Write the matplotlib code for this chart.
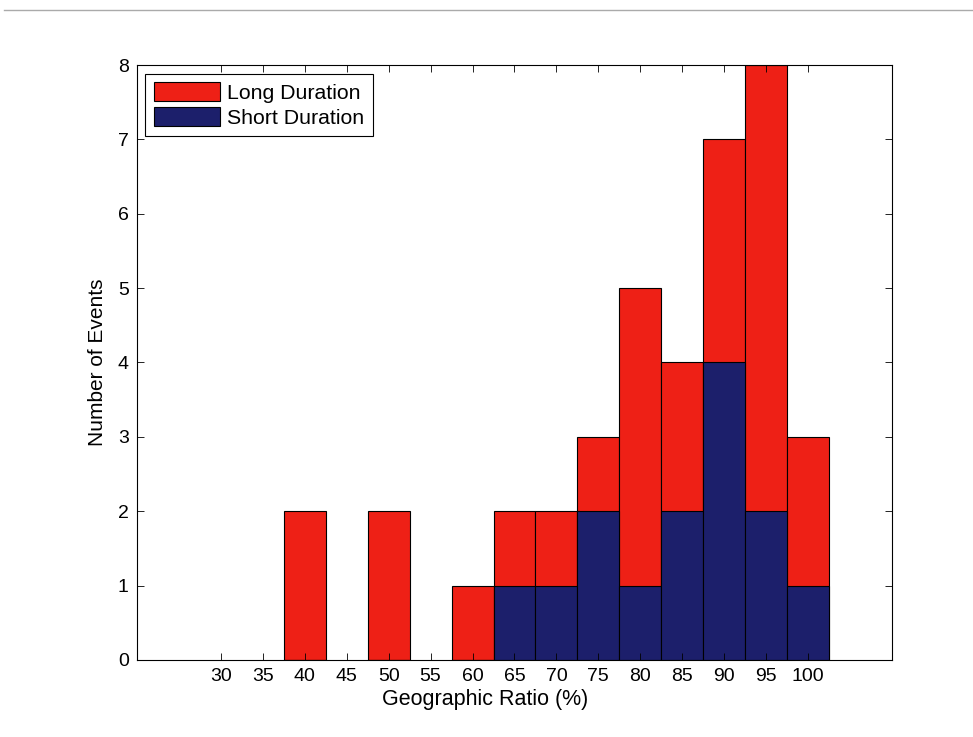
import matplotlib
matplotlib.use("Agg")
import matplotlib.pyplot as plt
import numpy as np

plt.rcParams["font.family"] = ["Liberation Sans", "DejaVu Sans"]

# bin centres (%) and counts per bin
ratio_bins = [40, 50, 60, 65, 70, 75, 80, 85, 90, 95, 100]
total_events = [2, 2, 1, 2, 2, 3, 5, 4, 7, 8, 3]
short_events = [0, 0, 0, 1, 1, 2, 1, 2, 4, 2, 1]
x_ticks = [30, 35, 40, 45, 50, 55, 60, 65, 70, 75, 80, 85, 90, 95, 100]

red = "#ee2016"
navy = "#1c1f6b"

fig = plt.figure(figsize=(9.73, 7.37), dpi=100)
ax = fig.add_axes([0.1408, 0.1045, 0.7759, 0.8073])

ax.bar(ratio_bins, total_events, width=5, color=red, edgecolor="black",
       linewidth=0.8, label="Long Duration")
ax.bar(ratio_bins, short_events, width=5, color=navy, edgecolor="black",
       linewidth=0.8, label="Short Duration")

ax.set_xlim(20, 110)
ax.set_ylim(0, 8)
ax.set_xticks(x_ticks)
ax.set_yticks(range(0, 9))
ax.tick_params(direction="in", top=True, right=True, labelsize=14,
               length=5, width=0.6, pad=6)
for s in ax.spines.values():
    s.set_linewidth(0.8)
ax.set_xlabel("Geographic Ratio (%)", fontsize=15.5, labelpad=2)
ax.xaxis.set_label_coords(0.461, -0.048)
ax.set_ylabel("Number of Events", fontsize=15, labelpad=8)

leg = ax.legend(loc="upper left", fontsize=15.3, fancybox=False, framealpha=1,
                edgecolor="black", handlelength=3.1, handleheight=1.0,
                handletextpad=0.35, borderaxespad=0.4, labelspacing=0.2,
                borderpad=0.4)
leg.get_frame().set_linewidth(0.8)

# thin grey rule at the top of the screenshot
fig.add_artist(plt.Line2D([0.004, 1.0], [0.986, 0.986], color="#aaaaaa",
                          linewidth=1.0, transform=fig.transFigure))

fig.savefig("out.png", dpi=100)
